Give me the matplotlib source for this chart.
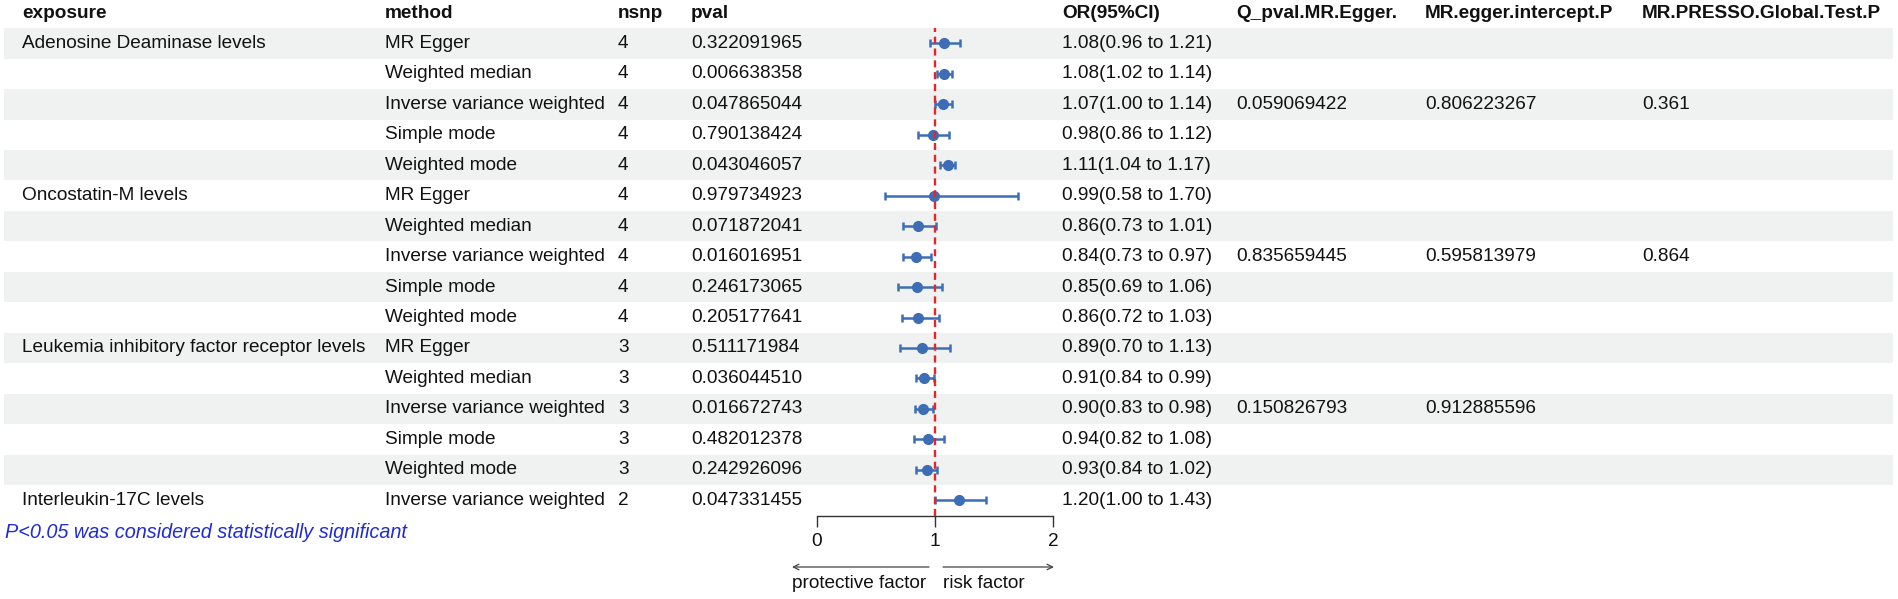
import numpy as np
import matplotlib
matplotlib.use("Agg")
import matplotlib.pyplot as plt

plt.rcParams['font.family'] = ['Liberation Sans', 'DejaVu Sans']

# table data
headers = ["exposure", "method", "nsnp", "pval", "OR(95%CI)",
           "Q_pval.MR.Egger.", "MR.egger.intercept.P", "MR.PRESSO.Global.Test.P"]
exposure = ["Adenosine Deaminase levels", "", "", "", "",
            "Oncostatin-M levels", "", "", "", "",
            "Leukemia inhibitory factor receptor levels", "", "", "", "",
            "Interleukin-17C levels"]
method = ["MR Egger", "Weighted median", "Inverse variance weighted", "Simple mode", "Weighted mode",
          "MR Egger", "Weighted median", "Inverse variance weighted", "Simple mode", "Weighted mode",
          "MR Egger", "Weighted median", "Inverse variance weighted", "Simple mode", "Weighted mode",
          "Inverse variance weighted"]
nsnp = [4, 4, 4, 4, 4, 4, 4, 4, 4, 4, 3, 3, 3, 3, 3, 2]
pval = ["0.322091965", "0.006638358", "0.047865044", "0.790138424", "0.043046057",
        "0.979734923", "0.071872041", "0.016016951", "0.246173065", "0.205177641",
        "0.511171984", "0.036044510", "0.016672743", "0.482012378", "0.242926096",
        "0.047331455"]
or_val = [1.08, 1.08, 1.07, 0.98, 1.11, 0.99, 0.86, 0.84, 0.85, 0.86,
          0.89, 0.91, 0.90, 0.94, 0.93, 1.20]
or_lo = [0.96, 1.02, 1.00, 0.86, 1.04, 0.58, 0.73, 0.73, 0.69, 0.72,
         0.70, 0.84, 0.83, 0.82, 0.84, 1.00]
or_hi = [1.21, 1.14, 1.14, 1.12, 1.17, 1.70, 1.01, 0.97, 1.06, 1.03,
         1.13, 0.99, 0.98, 1.08, 1.02, 1.43]
q_pval = ["", "", "0.059069422", "", "", "", "", "0.835659445", "", "",
          "", "", "0.150826793", "", "", ""]
egger_p = ["", "", "0.806223267", "", "", "", "", "0.595813979", "", "",
           "", "", "0.912885596", "", "", ""]
presso_p = ["", "", "0.361", "", "", "", "", "0.864", "", "",
            "", "", "", "", "", ""]
or_text = ["%.2f(%.2f to %.2f)" % (o, l, h) for o, l, h in zip(or_val, or_lo, or_hi)]

W, H = 1899, 599
row0 = 13.0
step = 30.45
fs = 13.7
txt = "#111111"
blue = "#3d6db4"

fig = plt.figure(figsize=(W / 100, H / 100), dpi=100)
ax = fig.add_axes([0, 0, 1, 1])
ax.set_xlim(0, W)
ax.set_ylim((H - row0) / step, -row0 / step)
ax.axis('off')

# zebra shading
for i in range(1, len(method) + 1):
    if i % 2 == 1:
        ax.fill_between([4, 1893], i - 0.5, i + 0.5, color="#eff2f1", lw=0, zorder=0)

colx = [22, 385, 618, 691, 1062, 1236, 1425, 1642]
for x, h in zip(colx, headers):
    ax.text(x, 0, h, fontsize=fs, fontweight='bold', va='center', ha='left', color=txt)

cols = [exposure, method, [str(n) for n in nsnp], pval, or_text, q_pval, egger_p, presso_p]
for x, col in zip(colx, cols):
    for i, s in enumerate(col):
        if s:
            ax.text(x, i + 1, s, fontsize=fs, va='center', ha='left', color=txt)

ax.text(5, (533 - row0) / step, "P<0.05 was considered statistically significant",
        fontsize=14.3, style='italic', color="#1f2bd4", va='center', ha='left')

# forest panel
x0, x2 = 817, 1053
ytop, ybot = 0.5, 16.52
pt = lambda r: row0 + step * r
fax = fig.add_axes([x0 / W, 1 - pt(ybot) / H, (x2 - x0) / W, (pt(ybot) - pt(ytop)) / H])
fax.patch.set_visible(False)
fax.set_xlim(0, 2)
fax.set_ylim(ybot, ytop)
for s in ['top', 'right', 'left']:
    fax.spines[s].set_visible(False)
fax.spines['bottom'].set_color("#333333")
fax.spines['bottom'].set_linewidth(1.0)
fax.set_yticks([])
fax.set_xticks([0, 1, 2])
fax.set_xticklabels(["0", "1", "2"])
fax.tick_params(axis='x', direction='out', length=8, width=1.0, color="#333333",
                labelsize=fs, labelcolor=txt, pad=4)

rows = np.arange(1, len(or_val) + 1)
or_arr = np.array(or_val)
fax.errorbar(or_arr, rows, xerr=[or_arr - np.array(or_lo), np.array(or_hi) - or_arr],
             fmt='o', color=blue, ecolor=blue, elinewidth=1.8, capsize=3.2, capthick=1.8,
             markersize=7, zorder=3, clip_on=False)
fax.axvline(1, color="#e2262b", ls='--', lw=1.7, dashes=(3, 2), zorder=4)

# arrows under the axis
ya = (567 - row0) / step
yl = (584 - row0) / step
fax.annotate("", xy=(-0.212, ya), xytext=(0.949, ya), annotation_clip=False,
             arrowprops=dict(arrowstyle='->', color="#444444", lw=0.9, shrinkA=0, shrinkB=0))
fax.annotate("", xy=(2.008, ya), xytext=(1.068, ya), annotation_clip=False,
             arrowprops=dict(arrowstyle='->', color="#444444", lw=0.9, shrinkA=0, shrinkB=0))
fax.text(-0.212, yl, "protective factor", fontsize=fs, va='center', ha='left', color=txt, clip_on=False)
fax.text(1.068, yl, "risk factor", fontsize=fs, va='center', ha='left', color=txt, clip_on=False)

fig.savefig("out.png", dpi=100)
